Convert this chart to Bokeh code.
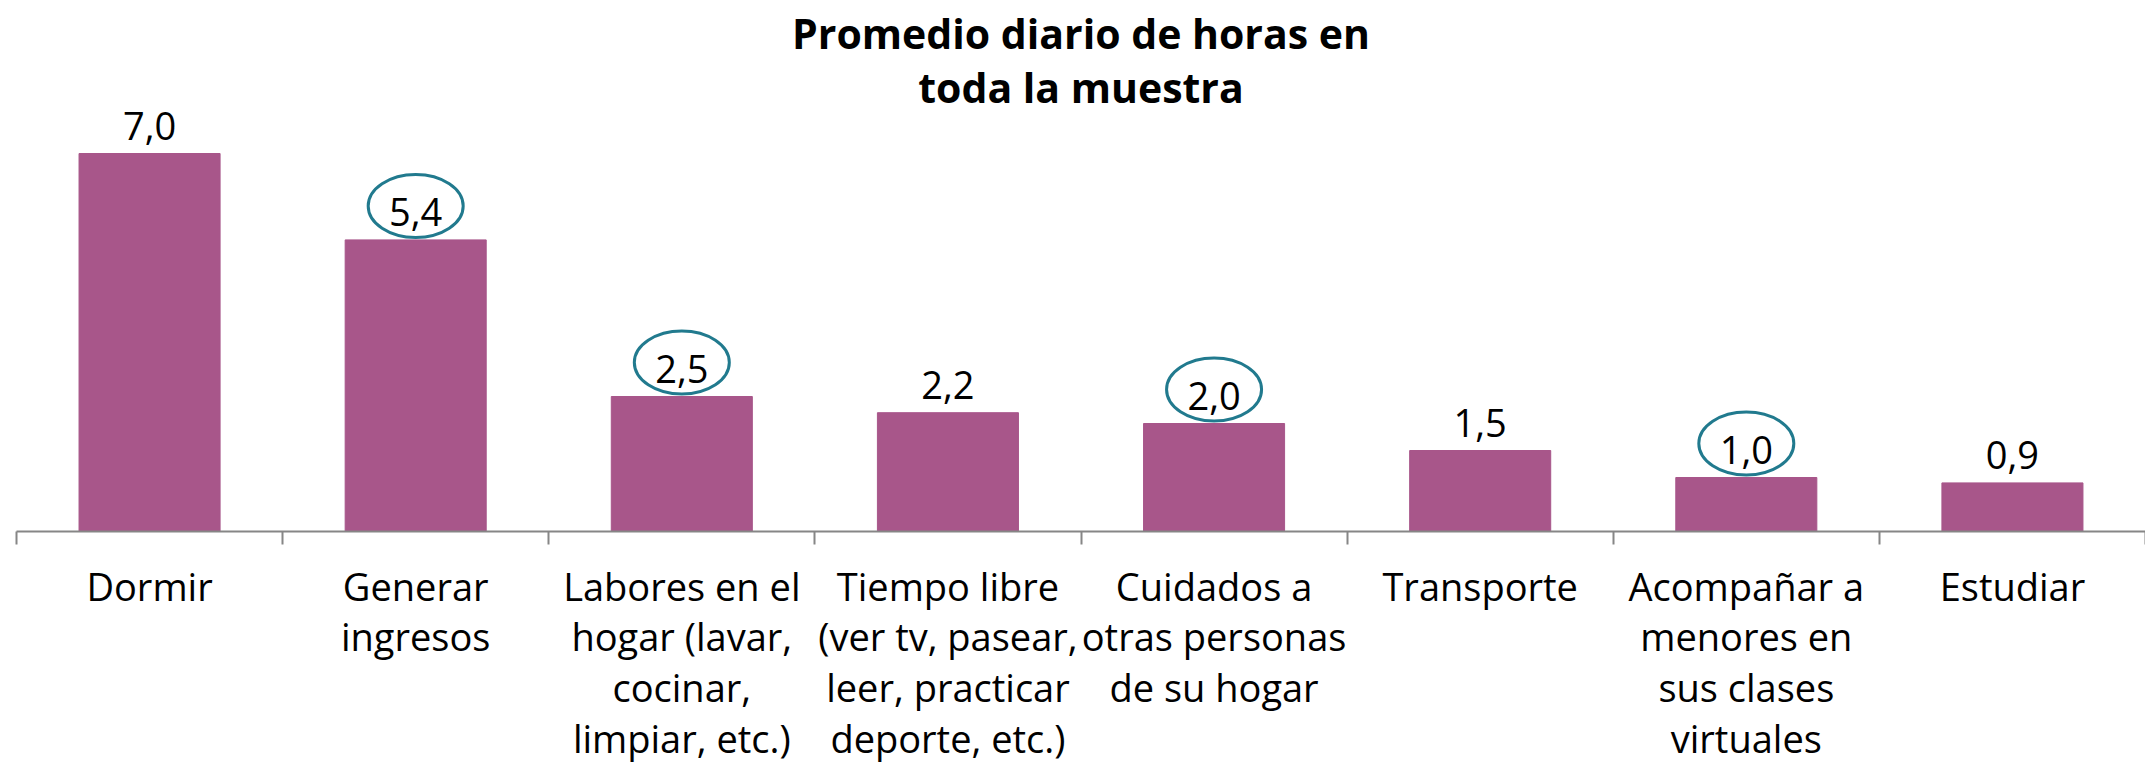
from bokeh.plotting import figure
from bokeh.models import ColumnDataSource, FixedTicker, Range1d, Title
from bokeh.core.properties import value
from bokeh.embed import file_html
from bokeh.resources import INLINE

# ---- data ----
categories = [
    "Dormir",
    "Generar\ningresos",
    "Labores en el\nhogar (lavar,\ncocinar,\nlimpiar, etc.)",
    "Tiempo libre\n(ver tv, pasear,\nleer, practicar\ndeporte, etc.)",
    "Cuidados a\notras personas\nde su hogar",
    "Transporte",
    "Acompañar a\nmenores en\nsus clases\nvirtuales",
    "Estudiar",
]
hours = [7.0, 5.4, 2.5, 2.2, 2.0, 1.5, 1.0, 0.9]
highlighted = [False, True, True, False, True, False, True, False]
title_lines = ["Promedio diario de horas en", "toda la muestra"]

# ---- derived ----
PX_PER_UNIT = 54.0
FRAME_H = 424
LABEL_GAP = 28 / PX_PER_UNIT      # value label anchor above bar top
RING_GAP = 34 / PX_PER_UNIT       # ellipse centre above bar top

xpos = [i + 0.5 for i in range(len(categories))]
value_labels = [f"{v:.1f}".replace(".", ",") for v in hours]
src = ColumnDataSource(dict(x=xpos, hours=hours, lbl=value_labels,
                            ly=[v + LABEL_GAP for v in hours]))

hx = [x for x, h in zip(xpos, highlighted) if h]
hy = [v + RING_GAP for v, h in zip(hours, highlighted) if h]

FONT = "Open Sans"
BAR = "#A8568A"
AXIS = "#868686"
RING = "#217A8E"

p = figure(frame_width=2129, frame_height=FRAME_H, title=None,
           x_range=Range1d(0, len(categories)), y_range=Range1d(0, FRAME_H / PX_PER_UNIT),
           output_backend="svg", toolbar_location=None,
           min_border_left=16, min_border_right=0, min_border_top=0, min_border_bottom=0)

# title: inner line first, outer line last
for txt, so in ((title_lines[1], -14), (title_lines[0], 5)):
    p.add_layout(Title(text=txt, align="center", text_font=FONT, text_font_size="41px",
                       text_font_style="bold", text_color="black", standoff=so),
                 "above")

p.vbar(x="x", top="hours", width=0.53, source=src, color=BAR)

p.text(x="x", y="ly", text="lbl", source=src,
       text_align="center", text_baseline="alphabetic",
       text_font=value(FONT), text_font_size="38px", text_color="black")

p.ellipse(x=hx, y=hy, width=95, height=63, width_units="screen", height_units="screen",
          fill_color=None, line_color=RING, line_width=3)

p.yaxis.visible = False
p.grid.visible = False
p.outline_line_color = None

ax = p.xaxis[0]
ax.ticker = FixedTicker(ticks=xpos, minor_ticks=list(range(len(categories) + 1)))
ax.major_label_overrides = {x: c for x, c in zip(xpos, categories)}
ax.major_tick_out = 0
ax.major_tick_in = 0
ax.minor_tick_out = 13
ax.minor_tick_in = 0
ax.minor_tick_line_color = AXIS
ax.minor_tick_line_width = 2
ax.axis_line_color = AXIS
ax.axis_line_width = 2
ax.major_label_text_font = FONT
ax.major_label_text_font_size = "38px"
ax.major_label_text_color = "black"
ax.major_label_text_line_height = 0.98
ax.major_label_standoff = 15

open("out.html", "w").write(file_html(p, INLINE))
